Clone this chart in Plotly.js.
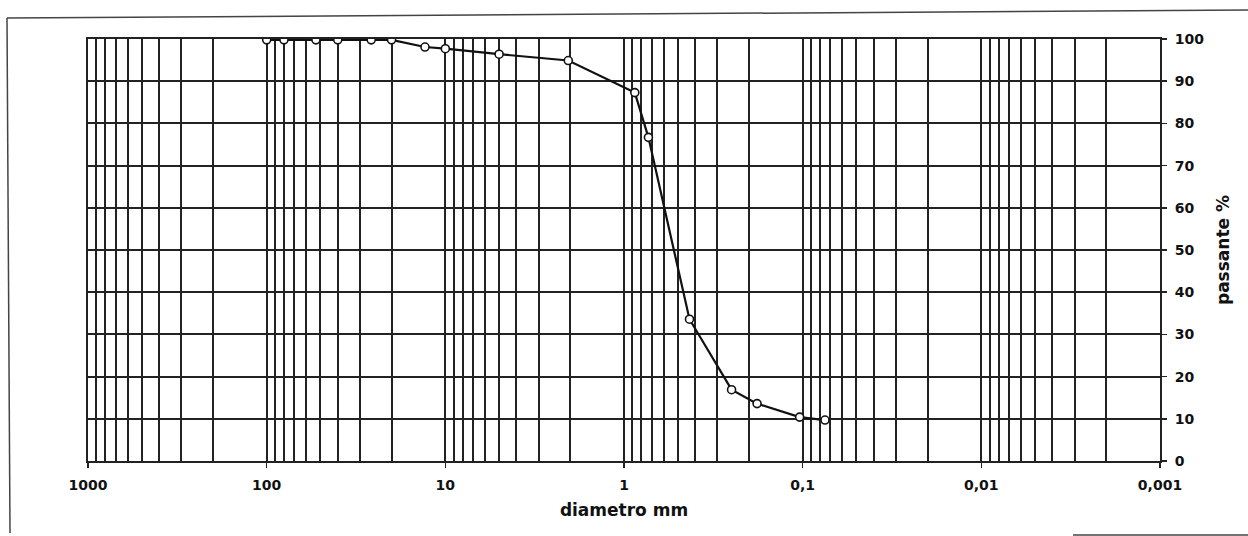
<!DOCTYPE html>
<html>
<head>
<meta charset="utf-8">
<script src="https://cdn.plot.ly/plotly-3.0.1.min.js"></script>
<style>
html,body{margin:0;padding:0;background:#fff;}
#chart{width:1248px;height:536px;}
</style>
</head>
<body>
<div id="chart"></div>
<script>
// Grain size distribution (diameter in mm, % passing)
const diametro = [100, 80, 53, 40, 26, 20, 13, 10, 5, 2.05, 0.87, 0.73, 0.43, 0.25, 0.18, 0.104, 0.075];
const passante = [99.8, 99.8, 99.8, 99.8, 99.8, 99.8, 98.1, 97.7, 96.4, 94.9, 87.3, 76.7, 33.6, 16.9, 13.6, 10.4, 9.7];

const xMajorVals = [1000, 100, 10, 1, 0.1, 0.01, 0.001];
const xMajorText = ["1000", "100", "10", "1", "0,1", "0,01", "0,001"];
const yTickVals = [0, 10, 20, 30, 40, 50, 60, 70, 80, 90, 100];

const xMinorVals = [];
for (let e = -3; e < 3; e++) {
  for (let m = 2; m <= 9; m++) xMinorVals.push(m * Math.pow(10, e));
}

const gridColor = '#222';
const fontFam = '"DejaVu Sans", Arial, sans-serif';

const trace = {
  x: diametro,
  y: passante,
  type: 'scatter',
  mode: 'lines+markers',
  line: {color: '#111', width: 2.2},
  marker: {symbol: 'circle', size: 8, color: '#fff', line: {width: 1.6, color: '#111'}},
  showlegend: false,
  hoverinfo: 'x+y'
};

const layout = {
  width: 1248,
  height: 536,
  margin: {l: 88, r: 88, t: 39, b: 75},
  paper_bgcolor: '#fff',
  plot_bgcolor: '#fff',
  font: {family: fontFam, size: 14, color: '#111'},
  xaxis: {
    type: 'log',
    range: [3, -3],
    tickmode: 'array',
    tickvals: xMajorVals,
    ticktext: xMajorText,
    ticks: 'outside',
    ticklen: 5,
    tickwidth: 1.5,
    tickcolor: gridColor,
    ticklabelstandoff: 5,
    tickfont: {family: fontFam, size: 14, color: '#111', weight: 'bold'},
    showgrid: true,
    gridcolor: gridColor,
    gridwidth: 2,
    minor: {tickmode: 'array', tickvals: xMinorVals, showgrid: true, gridcolor: gridColor, gridwidth: 2, ticks: ''},
    showline: true,
    linecolor: gridColor,
    linewidth: 2,
    mirror: true,
    zeroline: false,
    title: {text: 'diametro mm', font: {family: fontFam, size: 17, color: '#111', weight: 'bold'}, standoff: 12}
  },
  yaxis: {
    side: 'right',
    range: [0, 100],
    tickmode: 'array',
    tickvals: yTickVals,
    ticks: 'outside',
    ticklen: 5,
    tickwidth: 1.5,
    tickcolor: gridColor,
    ticklabelstandoff: 5,
    tickfont: {family: fontFam, size: 14, color: '#111', weight: 'bold'},
    showgrid: true,
    gridcolor: gridColor,
    gridwidth: 2,
    showline: true,
    linecolor: gridColor,
    linewidth: 2,
    mirror: true,
    zeroline: false,
    title: {text: 'passante %', font: {family: fontFam, size: 17, color: '#111', weight: 'bold'}, standoff: 14}
  },
  shapes: [
    {type: 'line', xref: 'paper', yref: 'paper', x0: (7-88)/1072, x1: (1248-88)/1072, y0: 1+(39-18)/422, y1: 1+(39-10)/422, line: {color: '#444', width: 1.5}},
    {type: 'line', xref: 'paper', yref: 'paper', x0: (7-88)/1072, x1: (10-88)/1072, y0: 1+(39-18)/422, y1: -(533-461)/422, line: {color: '#444', width: 1.5}},
    {type: 'line', xref: 'paper', yref: 'paper', x0: (1073-88)/1072, x1: (1248-88)/1072, y0: -(535-461)/422, y1: -(535-461)/422, line: {color: '#444', width: 1.5}}
  ]
};

Plotly.newPlot('chart', [trace], layout, {displayModeBar: false, staticPlot: true});
</script>
</body>
</html>
